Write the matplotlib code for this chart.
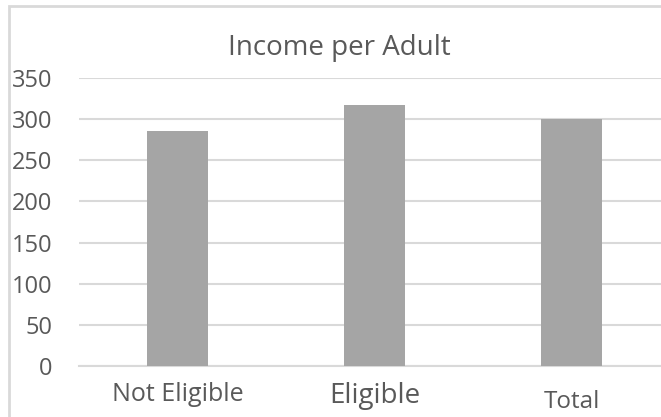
import matplotlib.pyplot as plt
from matplotlib.patches import Rectangle

# data
categories = ["Not Eligible", "Eligible", "Total"]
income = [286, 317, 300]
label_sizes = [18, 20, 17.5]
label_baseline = [35, 37, 42]   # pixels below the axis

W, H = 661, 417
fig = plt.figure(figsize=(W / 100, H / 100), dpi=100)
plt.rcParams['font.family'] = ['Open Sans', 'DejaVu Sans']

# chart border (light gray, cut at right/bottom like the screenshot)
fig.patches.append(Rectangle((9 / W, -0.1), 1.2, 1.1 - 6 / H, transform=fig.transFigure,
                             fill=False, edgecolor="#d9d9d9", linewidth=2))

ax = fig.add_axes([79 / W, (H - 366) / H, (670 - 79) / W, (366 - 78) / H])
x = range(len(categories))
ax.bar(x, income, width=0.31, color="#a5a5a5", zorder=3)
ax.set_xlim(-0.5, 2.5)
ax.set_ylim(0, 350)
ax.set_yticks(range(0, 351, 50))
ax.yaxis.grid(True, color="#d9d9d9", linewidth=1.5, zorder=0)
for s in ["top", "right", "left"]:
    ax.spines[s].set_visible(False)
ax.spines["bottom"].set_color("#d9d9d9")
ax.spines["bottom"].set_linewidth(1.5)
ax.tick_params(axis="y", length=0, labelsize=17, labelcolor="#595959", pad=19)
ax.set_xticks([])

for i, lab in enumerate(categories):
    ax.annotate(lab, (i, 0), xytext=(0, -label_baseline[i]), textcoords="offset pixels",
                ha="center", va="baseline", fontsize=label_sizes[i], color="#595959")

fig.text(339 / W, 1 - 55 / H, "Income per Adult", ha="center", va="baseline",
         fontsize=20, color="#595959")

fig.savefig("out.png", dpi=100)
